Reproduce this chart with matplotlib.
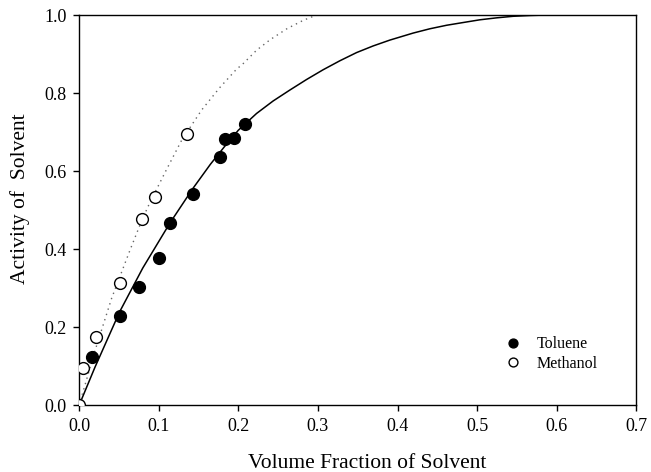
import matplotlib
matplotlib.use("Agg")
import matplotlib.pyplot as plt

plt.rcParams['font.family'] = ['Liberation Serif', 'DejaVu Serif']

# measured points
toluene_x = [0.0168, 0.0515, 0.075, 0.1005, 0.114, 0.143, 0.177, 0.183, 0.194, 0.209]
toluene_y = [0.125, 0.228, 0.304, 0.377, 0.467, 0.542, 0.636, 0.682, 0.685, 0.721]

methanol_x = [0.0, 0.0055, 0.021, 0.051, 0.079, 0.096, 0.136]
methanol_y = [0.0, 0.095, 0.176, 0.313, 0.477, 0.533, 0.696]

# model curves
toluene_fit_x = [0, 0.02, 0.051, 0.08, 0.114, 0.143, 0.165, 0.183, 0.2, 0.2229, 0.2437,
                 0.2647, 0.2857, 0.3065, 0.3275, 0.3485, 0.3693, 0.3903, 0.4196, 0.4406,
                 0.4616, 0.4824, 0.5034, 0.5244, 0.5452, 0.5662, 0.583]
toluene_fit_y = [0, 0.098, 0.240, 0.352, 0.467, 0.556, 0.618, 0.664, 0.705, 0.748, 0.780,
                 0.808, 0.835, 0.860, 0.883, 0.904, 0.921, 0.936, 0.954, 0.965,
                 0.974, 0.981, 0.988, 0.993, 0.997, 0.999, 1.0]

methanol_fit_x = [0, 0.02, 0.041, 0.064, 0.079, 0.089, 0.11, 0.129, 0.154, 0.177,
                  0.198, 0.2053, 0.219, 0.2229, 0.240, 0.2437, 0.261, 0.2647, 0.281, 0.2857, 0.298]
methanol_fit_y = [0, 0.14, 0.275, 0.398, 0.475, 0.52, 0.605, 0.68, 0.757, 0.815,
                  0.862, 0.874, 0.902, 0.910, 0.937, 0.942, 0.965, 0.969, 0.986, 0.990, 1.0]

fig = plt.figure(figsize=(6.51, 4.72), dpi=100)
ax = fig.add_axes([0.1214, 0.1409, 0.8563, 0.8271])

ax.plot(toluene_fit_x, toluene_fit_y, color='black', lw=1.1, zorder=2)
ax.plot(methanol_fit_x, methanol_fit_y, color='#666666', lw=1.0, linestyle=(0, (1, 3)), zorder=2)

ax.plot(toluene_x, toluene_y, 'o', color='black', markersize=8.5, label='Toluene', zorder=3)
ax.plot(methanol_x, methanol_y, 'o', markerfacecolor='white', markeredgecolor='black',
        markeredgewidth=1.0, markersize=8.5, label='Methanol', zorder=3)

ax.set_xlim(0, 0.7)
ax.set_ylim(0, 1.0)
ax.set_xticks([0.0, 0.1, 0.2, 0.3, 0.4, 0.5, 0.6, 0.7])
ax.set_yticks([0.0, 0.2, 0.4, 0.6, 0.8, 1.0])
ax.xaxis.set_major_formatter(matplotlib.ticker.FormatStrFormatter('%.1f'))
ax.yaxis.set_major_formatter(matplotlib.ticker.FormatStrFormatter('%.1f'))
ax.tick_params(direction='out', length=4, width=1, labelsize=13, pad=5)
for s in ax.spines.values():
    s.set_linewidth(1.0)

ax.set_xlabel('Volume Fraction of Solvent', fontsize=15.5)
ax.set_ylabel('Activity of  Solvent', fontsize=15.5)
ax.xaxis.set_label_coords(0.517, -0.125)
ax.yaxis.set_label_coords(-0.0876, 0.531)

ax.legend(loc='lower right', bbox_to_anchor=(0.957, 0.05), frameon=False, fontsize=11.5,
          markerscale=0.75, handletextpad=0.5, labelspacing=0.2)

fig.savefig('out.png', dpi=100)
